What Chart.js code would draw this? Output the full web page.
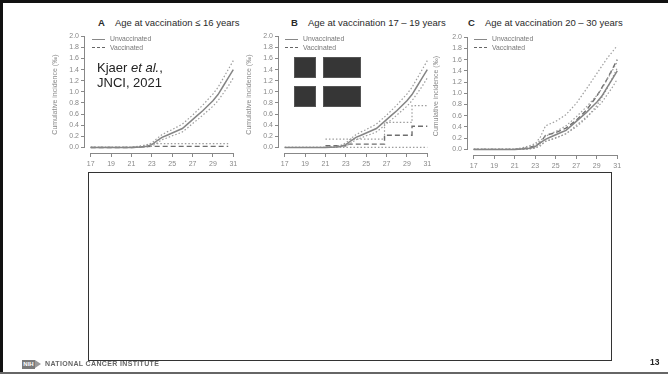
<!DOCTYPE html>
<html lang="en">
<head>
<meta charset="UTF-8">
<title>HPV vaccination - cumulative incidence</title>
<script src="https://cdn.jsdelivr.net/npm/chart.js"></script>
<style>
  body { margin: 0; background: #fff; font-family: "Liberation Sans", Arial, sans-serif; }
  #slide { position: relative; width: 668px; height: 376px; overflow: hidden; background: #fff; }
  #slide .frameTop { position: absolute; left: 0; top: 0; width: 668px; height: 3px; background: #111; }
  #slide .frameLeft { position: absolute; left: 0; top: 0; width: 3px; height: 374px; background: #111; }
  #slide .frameBottom { position: absolute; left: 0; top: 372px; width: 668px; height: 2px; background: #666; }
  canvas { position: absolute; }
  .ttl { position: absolute; top: 17px; font-size: 9.5px; color: #2a2a2a; white-space: nowrap; }
  .ttl b { margin-right: 10px; }
  .lg { position: absolute; font-size: 6.8px; color: #777; white-space: nowrap; line-height: 8.5px; }
  .lg span.s { display: inline-block; width: 13px; height: 0; border-top: 1.2px solid #888; vertical-align: middle; margin-right: 5px; }
  .lg span.d { display: inline-block; width: 13px; height: 0; border-top: 1.3px dashed #666; vertical-align: middle; margin-right: 5px; }
  .blk { position: absolute; background: #363636; border: 1px solid #555; box-sizing: border-box; }
  .cite { position: absolute; left: 97px; top: 60px; font-size: 13px; line-height: 15px; color: #222; }
  #box { position: absolute; left: 88px; top: 172px; width: 524px; height: 189px; border: 1.5px solid #333; box-sizing: border-box; background: #fff; }
  .nih { position: absolute; left: 22px; top: 360px; width: 13px; height: 9px; background: #7a7a7a; color: #fff; font-size: 6px; font-weight: bold; line-height: 9px; text-align: center; }
  .nihArrow { position: absolute; left: 35px; top: 360px; width: 0; height: 0; border-top: 4.5px solid transparent; border-bottom: 4.5px solid transparent; border-left: 6px solid #9a9a9a; }
  .nci { position: absolute; left: 45px; top: 360px; font-size: 7px; font-weight: bold; color: #666; letter-spacing: 0.35px; white-space: nowrap; }
  .pg { position: absolute; left: 650px; top: 357px; font-size: 8.5px; font-weight: bold; color: #222; }
</style>
</head>
<body>
<div id="slide">
  <div class="frameTop"></div>
  <div class="frameLeft"></div>
  <div class="frameBottom"></div>

  <div class="ttl" style="left:98px"><b>A</b>Age at vaccination &le; 16 years</div>
  <div class="ttl" style="left:291px"><b>B</b>Age at vaccination 17 &ndash; 19 years</div>
  <div class="ttl" style="left:468px"><b>C</b>Age at vaccination 20 &ndash; 30 years</div>

  <canvas id="chartA" width="196" height="143" style="left:51px; top:30px"></canvas>
  <canvas id="chartB" width="196" height="143" style="left:245px; top:30px"></canvas>
  <canvas id="chartC" width="199" height="144" style="left:432px; top:31px"></canvas>

  <div class="lg" style="left:92px; top:35px"><span class="s"></span>Unvaccinated<br><span class="d"></span>Vaccinated</div>
  <div class="lg" style="left:285px; top:35px"><span class="s"></span>Unvaccinated<br><span class="d"></span>Vaccinated</div>
  <div class="lg" style="left:474px; top:35px"><span class="s"></span>Unvaccinated<br><span class="d"></span>Vaccinated</div>

  <div class="cite">Kjaer <i>et al.</i>,<br>JNCI, 2021</div>

  <div class="blk" style="left:294px; top:57px; width:22px; height:21px"></div>
  <div class="blk" style="left:323px; top:57px; width:38px; height:21px"></div>
  <div class="blk" style="left:294px; top:86px; width:22px; height:21px"></div>
  <div class="blk" style="left:323px; top:86px; width:38px; height:21px"></div>

  <div id="box"></div>

  <div class="nih">NIH</div>
  <div class="nihArrow"></div>
  <div class="nci">NATIONAL CANCER INSTITUTE</div>
  <div class="pg">13</div>
</div>

<script>
// axis ticks
const xTicks = [17, 19, 21, 23, 25, 27, 29, 31];
const yTicks = [0, 0.2, 0.4, 0.6, 0.8, 1.0, 1.2, 1.4, 1.6, 1.8, 2.0];

// unvaccinated (same reference curve in all three panels)
const unvacAge = [17, 21, 22, 22.5, 23, 23.5, 24, 24.5, 25, 25.5, 26, 26.5, 27, 27.5, 28, 28.5, 29, 29.5, 30, 30.5, 31];
const unvacMid = [0, 0, 0.01, 0.02, 0.05, 0.12, 0.18, 0.22, 0.26, 0.3, 0.34, 0.42, 0.5, 0.58, 0.66, 0.75, 0.84, 0.95, 1.1, 1.25, 1.4];
const unvacHi  = [0, 0, 0.02, 0.04, 0.08, 0.16, 0.23, 0.28, 0.32, 0.37, 0.42, 0.5, 0.58, 0.67, 0.76, 0.86, 0.96, 1.08, 1.24, 1.4, 1.56];
const unvacLo  = [0, 0, 0, 0.01, 0.02, 0.08, 0.14, 0.17, 0.21, 0.24, 0.28, 0.35, 0.43, 0.5, 0.58, 0.66, 0.74, 0.84, 0.97, 1.1, 1.25];

// A: vaccinated at <= 16 years
const vacAgeA = [17, 21, 22, 23, 24, 25, 26, 27, 28, 29, 30.5];
const vacMidA = [0, 0, 0.01, 0.02, 0.02, 0.02, 0.02, 0.02, 0.02, 0.02, 0.02];
const vacHiA  = [0, 0, 0.03, 0.07, 0.07, 0.07, 0.07, 0.07, 0.07, 0.07, 0.07];

// B: vaccinated at 17-19 years (step curve)
const vacAgeB = [21, 23.2, 26.8, 29.5, 31];
const vacMidB = [0.03, 0.06, 0.22, 0.38, 0.38];
const vacHiAgeB = [21, 26.8, 29.5, 31];
const vacHiB  = [0.15, 0.45, 0.75, 0.75];
const vacLoAgeB = [21, 31];
const vacLoB  = [0, 0];

// C: vaccinated at 20-30 years
const vacAgeC = [17, 21, 22, 23, 23.5, 24, 25, 26, 27, 28, 29, 30, 31];
const vacMidC = [0, 0, 0.02, 0.06, 0.12, 0.25, 0.3, 0.38, 0.52, 0.7, 0.95, 1.25, 1.6];
const vacHiC  = [0, 0, 0.04, 0.1, 0.22, 0.42, 0.5, 0.62, 0.82, 1.08, 1.35, 1.62, 1.85];
const vacLoC  = [0, 0, 0, 0.03, 0.06, 0.15, 0.2, 0.28, 0.4, 0.56, 0.78, 1.08, 1.45];

const pts = (xs, ys) => xs.map((x, i) => ({ x: x, y: ys[i] }));

function solid(d) { return { data: d, borderColor: '#858585', borderWidth: 1.5, pointRadius: 0 }; }
function dotted(d) { return { data: d, borderColor: '#9c9c9c', borderWidth: 1.2, borderDash: [1.5, 2], pointRadius: 0 }; }
function dashed(d) { return { data: d, borderColor: '#6e6e6e', borderWidth: 1.4, borderDash: [5, 3], pointRadius: 0 }; }

const unvacSets = () => [solid(pts(unvacAge, unvacMid)), dotted(pts(unvacAge, unvacHi)), dotted(pts(unvacAge, unvacLo))];

// R-style axis lines that run only from first to last tick
const axisLines = {
  id: 'axisLines',
  afterDraw(chart) {
    const ctx = chart.ctx, x = chart.scales.x, y = chart.scales.y;
    ctx.save();
    ctx.strokeStyle = '#888';
    ctx.lineWidth = 1;
    ctx.beginPath();
    ctx.moveTo(x.getPixelForValue(xTicks[0]), x.top + 0.5);
    ctx.lineTo(x.getPixelForValue(xTicks[xTicks.length - 1]), x.top + 0.5);
    ctx.moveTo(y.right - 0.5, y.getPixelForValue(yTicks[0]));
    ctx.lineTo(y.right - 0.5, y.getPixelForValue(yTicks[yTicks.length - 1]));
    ctx.stroke();
    ctx.restore();
  }
};

function makePanel(id, datasets, yWidth) {
  new Chart(document.getElementById(id), {
    type: 'line',
    data: { datasets: datasets },
    plugins: [axisLines],
    options: {
      responsive: false,
      animation: false,
      layout: { padding: { top: 5, right: 8, left: 0, bottom: 0 } },
      plugins: { legend: { display: false }, tooltip: { enabled: false } },
      elements: { line: { tension: 0 } },
      scales: {
        x: {
          type: 'linear', min: 16.44, max: 31.56,
          afterBuildTicks: s => { s.ticks = xTicks.map(v => ({ value: v })); },
          afterFit: s => { s.height = 20; },
          border: { display: false },
          grid: { drawOnChartArea: false, drawTicks: true, tickLength: 4, color: '#888' },
          ticks: { color: '#888', font: { size: 7 }, padding: 3, maxRotation: 0, autoSkip: false, callback: v => String(v) }
        },
        y: {
          type: 'linear', min: -0.1, max: 2.0,
          afterBuildTicks: s => { s.ticks = yTicks.map(v => ({ value: v })); },
          afterFit: s => { s.width = yWidth; },
          border: { display: false },
          grid: { drawOnChartArea: false, drawTicks: true, tickLength: 4, color: '#888' },
          ticks: { color: '#888', font: { size: 7 }, padding: 2, autoSkip: false, callback: v => v.toFixed(1) },
          title: { display: true, text: 'Cumulative incidence (‰)', color: '#8a8a8a', font: { size: 7 }, padding: 0 }
        }
      }
    }
  });
}

makePanel('chartA', unvacSets().concat([
  dashed(pts(vacAgeA, vacMidA)),
  dotted(pts(vacAgeA, vacHiA))
]), 34);

makePanel('chartB', unvacSets().concat([
  Object.assign(dashed(pts(vacAgeB, vacMidB)), { stepped: true }),
  Object.assign(dotted(pts(vacHiAgeB, vacHiB)), { stepped: true }),
  Object.assign(dotted(pts(vacLoAgeB, vacLoB)), { stepped: true })
]), 34);

makePanel('chartC', unvacSets().concat([
  dashed(pts(vacAgeC, vacMidC)),
  dotted(pts(vacAgeC, vacHiC)),
  dotted(pts(vacAgeC, vacLoC))
]), 36);
</script>
</body>
</html>
